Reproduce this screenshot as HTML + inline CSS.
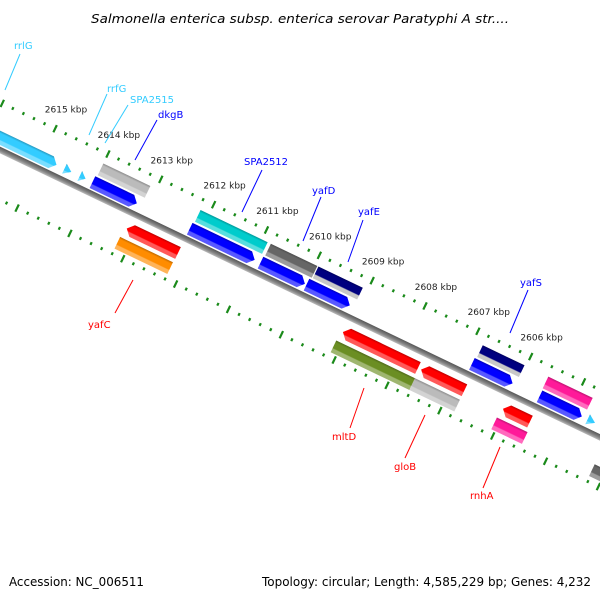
<!DOCTYPE html>
<html><head><meta charset="utf-8"><style>
html,body{margin:0;padding:0;background:#fff;}
svg{display:block;font-family:"DejaVu Sans","Liberation Sans",sans-serif;}
</style></head><body>
<svg id="map" width="600" height="600" viewBox="0 0 600 600">
<defs>
<linearGradient id="bb" x1="0" y1="0" x2="0" y2="1"><stop offset="0" stop-color="#555"/><stop offset="0.6" stop-color="#888"/><stop offset="1" stop-color="#bbb"/></linearGradient>
</defs>
<text x="91" y="23" textLength="418" lengthAdjust="spacingAndGlyphs" font-size="12.5" font-style="italic" fill="#000">Salmonella enterica subsp. enterica serovar Paratyphi A str....</text>
<g id="rot" transform="translate(0,150) rotate(25.6)">
  <rect x="-100" y="-3" width="900" height="6" fill="url(#bb)"/>
</g>
<g id="labels"></g>
<text x="9" y="586" textLength="135" lengthAdjust="spacingAndGlyphs" font-size="12" fill="#000">Accession: NC_006511</text>
<text x="262" y="586" textLength="329" lengthAdjust="spacingAndGlyphs" font-size="12" fill="#000">Topology: circular; Length: 4,585,229 bp; Genes: 4,232</text>
</svg>
<script>
// feature data (kbp)
const featStart = [2616.2,2614.56,2614.27,2614.03,2614.00,2612.19,2612.16,2610.85,2610.83,2609.98,2609.93,2606.85,2606.82,2605.57,2605.58,2604.66,2613.16,2613.20,2609.07,2609.11,2607.59,2607.62,2606.04,2606.07,2604.22];
const featEnd   = [2614.71,2614.43,2614.16,2613.19,2613.11,2610.96,2610.89,2610.01,2609.95,2609.16,2609.09,2606.08,2606.03,2604.77,2604.74,2604.52,2612.19,2612.20,2607.65,2607.62,2606.77,2606.77,2605.53,2605.49,2603.3];
const featLane  = [-1,-1,-1,-1,-2,-1,-2,-1,-2,-1,-2,-1,-2,-1,-2,-1,1,2,1,2,1,2,1,2,2];
const featDir   = [1,1,1,1,0,1,0,1,0,1,0,1,0,1,0,1,-1,0,-1,0,-1,0,-1,0,0];
const featColor = ["#33ccff","#33ccff","#33ccff","#0000ff","#bbbbbb","#0000ff","#00cccc","#0000ff","#666666","#0000ff","#000080","#0000ff","#000080","#0000ff","#ff1a99","#33ccff","#ff0000","#ff8c00","#ff0000","#6b8e23","#ff0000","#bbbbbb","#ff0000","#ff1a99","#666666"];
const featName  = ["rrlG","trna-1","trna-2","dkgB","gene-gray","SPA2512","gene-cyan","yafD","gene-darkgray","yafE","gene-navy","yafS","gene-navy-2","gene-blue","gene-pink","trna-3","yafC","gene-orange","mltD","gene-olive","gloB","gene-lightgray","rnhA","gene-pink-2","gene-darkgray-2"];
const tickMajor = [2616,2615,2614,2613,2612,2611,2610,2609,2608,2607,2606,2605,2604];
const tickLabels = ["","2615 kbp","2614 kbp","2613 kbp","2612 kbp","2611 kbp","2610 kbp","2609 kbp","2608 kbp","2607 kbp","2606 kbp","",""];
const labelText = ["rrlG","rrfG","SPA2515","dkgB","SPA2512","yafD","yafE","yafS","yafC","mltD","gloB","rnhA"];
const labelColor = ["#33ccff","#33ccff","#33ccff","#0000ff","#0000ff","#0000ff","#0000ff","#0000ff","#ff0000","#ff0000","#ff0000","#ff0000"];
const labelPos = [[14,49,5,90,20,54],[107,92,89,135,107,94],[130,103,105,143,128,105],[158,118,135,160,157,120],[244,165,242,212,262,170],[312,194,303,241,321,197],[358,215,348,262,363,220],[520,286,510,333,528,290],[88,328,115,313,133,280],[332,440,350,428,364,388],[394,470,405,458,425,415],[470,499,483,488,500,447]];

const NS="http://www.w3.org/2000/svg";
const C=Math.cos(25.6*Math.PI/180), S=Math.sin(25.6*Math.PI/180);
function uOf(k){return 40.4+(2615-k)*58.6;}
function laneV(l){return ({"-1":-11,"-2":-26,"1":16,"2":33})[l];}
function toXY(u,v){return [u*C - v*S, 150 + u*S + v*C];}
function shade(hex,f){const n=parseInt(hex.slice(1),16);let r=n>>16,g=(n>>8)&255,b=n&255;
  const m=x=>Math.max(0,Math.min(255,Math.round(f>0?x+(255-x)*f:x*(1+f))));
  return "rgb("+m(r)+","+m(g)+","+m(b)+")";}
const rot=document.getElementById('rot');
const defs=document.querySelector('defs');

// ticks
const ticks=document.createElementNS(NS,'g');


rot.appendChild(ticks);
for(let i=0;i<=65;i++){
  const k=2616.2-i*0.2;
  const isMaj=Math.abs(k-Math.round(k))<0.01;
  [-43,45].forEach(v=>{
    const r=document.createElementNS(NS,'rect');
    
    
    const h=isMaj?8:3;
    r.setAttribute('x',uOf(k)-1);r.setAttribute('y',v-h/2);
    r.setAttribute('width',2.2);r.setAttribute('height',h);
    r.setAttribute('fill','#1a8a1a');
    ticks.appendChild(r);
  });
}
const svg=document.getElementById('map');
tickMajor.forEach((k,i)=>{
  if(!tickLabels[i])return;
  const p=toXY(uOf(k),-43);
  const t=document.createElementNS(NS,'text');
  
  
  t.setAttribute('x',p[0]+11);t.setAttribute('y',p[1]-16);
  t.setAttribute('text-anchor','middle');t.setAttribute('font-size','9');t.setAttribute('fill','#222');
  t.textContent=tickLabels[i];
  svg.insertBefore(t,document.getElementById('labels'));
});

// features
featStart.forEach((s,i)=>{
  let u1=uOf(s),u2=uOf(featEnd[i]);
  const vc=laneV(featLane[i]);
  const isT=featName[i].startsWith('trna');
  const h=isT?11:13,a=isT?(u2-u1):6;
  const top=vc-h/2,bot=vc+h/2;
  let pts;
  if(featDir[i]===1) pts=[[u1,top],[u2-a,top],[u2,vc],[u2-a,bot],[u1,bot]];
  else if(featDir[i]===-1) pts=[[u1,vc],[u1+a,top],[u2,top],[u2,bot],[u1+a,bot]];
  else pts=[[u1,top],[u2,top],[u2,bot],[u1,bot]];
  if(isT) pts=[[u1,top],[u2,vc],[u1,bot]];
  const gid='g'+i;
  const lg=document.createElementNS(NS,'linearGradient');
  lg.setAttribute('id',gid);lg.setAttribute('x1','0');lg.setAttribute('y1','0');lg.setAttribute('x2','0');lg.setAttribute('y2','1');
  const col=featColor[i];
  const bottomCol=col==="#000080"?"#c8c8c8":shade(col,0.35);
  [[0,shade(col,-0.25)],[0.18,col],[0.62,col],[0.7,bottomCol],[1,bottomCol]].forEach(st=>{
    const e=document.createElementNS(NS,'stop');e.setAttribute('offset',st[0]);e.setAttribute('stop-color',st[1]);lg.appendChild(e);});
  defs.appendChild(lg);
  const p=document.createElementNS(NS,'polygon');
  
  
  p.setAttribute('points',pts.map(q=>q.join(',')).join(' '));
  p.setAttribute('fill','url(#'+gid+')');
  rot.appendChild(p);
});

// labels
const lg2=document.getElementById('labels');
labelText.forEach((txt,i)=>{
  const L=labelPos[i];
  const ln=document.createElementNS(NS,'line');
  
  
  ln.setAttribute('x1',L[2]);ln.setAttribute('y1',L[3]);ln.setAttribute('x2',L[4]);ln.setAttribute('y2',L[5]);
  ln.setAttribute('stroke',labelColor[i]);ln.setAttribute('stroke-width','1');
  lg2.appendChild(ln);
  const t=document.createElementNS(NS,'text');
  
  
  t.setAttribute('x',L[0]);t.setAttribute('y',L[1]);t.setAttribute('font-size','10');t.setAttribute('fill',labelColor[i]);
  t.textContent=txt;
  lg2.appendChild(t);
});
</script>
</body></html>
